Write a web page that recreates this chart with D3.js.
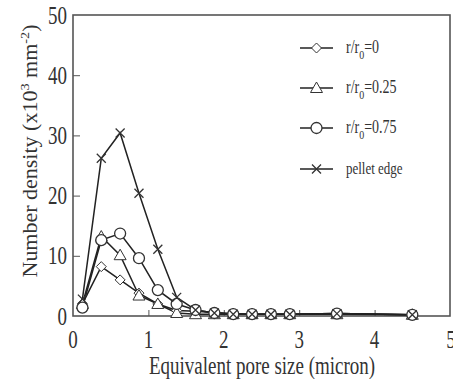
<!DOCTYPE html>
<html><head><meta charset="utf-8">
<script src="https://cdnjs.cloudflare.com/ajax/libs/d3/7.8.5/d3.min.js"></script>
<style>body{margin:0;background:#fff}svg{display:block}text{font-family:"Liberation Serif","Times New Roman",serif;fill:#333}</style>
</head><body><svg id="c" width="453" height="379"></svg>
<script>
const xValues = [0.125,0.375,0.625,0.875,1.125,1.375,1.625,1.875,2.125,2.375,2.625,2.875,3.5,4.5];
const seriesNames = ["r/r0=0","r/r0=0.25","r/r0=0.75","pellet edge"];
const rr0 =    [2.0, 8.2, 6.0, 3.8, 2.0, 0.9, 0.8, 0.6, 0.4, 0.3, 0.3, 0.3, 0.4, 0.2];
const rr025 =  [2.0,13.2,10.1, 3.4, 2.0, 0.5, 0.3, 0.3, 0.3, 0.3, 0.3, 0.3, 0.3, 0.2];
const rr075 =  [1.4,12.6,13.7, 9.6, 4.3, 2.0, 1.0, 0.5, 0.3, 0.3, 0.3, 0.3, 0.4, 0.2];
const edge =   [2.8,26.2,30.4,20.4,11.1, 3.1, 1.0, 0.5, 0.3, 0.3, 0.3, 0.3, 0.4, 0.2];
const xTicks = [0,1,2,3,4,5];
const yTicks = [0,10,20,30,40,50];
const markers = ["diamond","triangle","circle","cross"];
const allSeries = [rr0, rr025, rr075, edge];

const svg = d3.select("#c");
const x = d3.scaleLinear().domain([0,5]).range([73,450]);
const y = d3.scaleLinear().domain([0,50]).range([316,15]);
const frame = "#555", lineC = "#222", mk = "#333";
const VS = 1.3; // vertical stretch of the reference's text

function stretchedText(px, py, str, size, anchor){
  return svg.append("text").attr("transform",`translate(${px},${py}) scale(1,${VS})`)
    .attr("text-anchor",anchor).attr("dy","0.35em").attr("font-size",size).text(str);
}

// frame
svg.append("rect").attr("x",73).attr("y",15).attr("width",377).attr("height",301)
  .attr("fill","none").attr("stroke",frame).attr("stroke-width",1.6);

// axes (tick marks via d3 axes; labels drawn stretched)
const xa = svg.append("g").attr("transform","translate(0,316)")
  .call(d3.axisBottom(x).tickValues(xTicks).tickSizeInner(-6).tickSizeOuter(0).tickFormat(""));
const ya = svg.append("g").attr("transform","translate(73,0)")
  .call(d3.axisLeft(y).tickValues(yTicks).tickSizeInner(-7).tickSizeOuter(0).tickFormat(""));
[xa,ya].forEach(g=>{
  g.select(".domain").remove();
  g.selectAll(".tick line").attr("stroke",frame).attr("stroke-width",1);
});
xa.selectAll(".tick").filter(d=>d===0||d===5).select("line").remove();
ya.selectAll(".tick").filter(d=>d===0||d===50).select("line").remove();
xTicks.forEach(v=>stretchedText(x(v)+(v===5?1:0), 339, d3.format("d")(v), 19, "middle"));
yTicks.forEach(v=>stretchedText(67, y(v), d3.format("d")(v), 19, "end"));

// titles
stretchedText(262, 365, "Equivalent pore size (micron)", 19, "middle");
const yt = svg.append("text").attr("transform","translate(37,151) rotate(-90) scale(1.1,1)")
  .attr("text-anchor","middle").attr("font-size",20);
yt.append("tspan").text("Number density (x10");
yt.append("tspan").attr("font-size",13).attr("dy",-8).text("3");
yt.append("tspan").attr("dy",8).text(" mm");
yt.append("tspan").attr("font-size",13).attr("dy",-8).text("-2");
yt.append("tspan").attr("dy",8).text(")");

function drawMarker(g, type, cx, cy){
  if(type==="diamond"){
    g.append("path").attr("d",`M${cx},${cy-5}L${cx+5},${cy}L${cx},${cy+5}L${cx-5},${cy}Z`)
      .attr("fill","#fff").attr("stroke",mk).attr("stroke-width",1);
  } else if(type==="triangle"){
    g.append("path").attr("d",`M${cx},${cy-6}L${cx+6},${cy+4.5}L${cx-6},${cy+4.5}Z`)
      .attr("fill","#fff").attr("stroke",mk).attr("stroke-width",1);
  } else if(type==="circle"){
    g.append("circle").attr("cx",cx).attr("cy",cy).attr("r",5.5)
      .attr("fill","#fff").attr("stroke",mk).attr("stroke-width",1.3);
  } else {
    g.append("path").attr("d",`M${cx-4.5},${cy-4.5}L${cx+4.5},${cy+4.5}M${cx-4.5},${cy+4.5}L${cx+4.5},${cy-4.5}`)
      .attr("stroke",mk).attr("stroke-width",1.3);
  }
}

const line = d3.line().x((d,i)=>x(xValues[i])).y(d=>y(d));
allSeries.forEach((s,k)=>{
  svg.append("path").datum(s).attr("d",line).attr("fill","none").attr("stroke",lineC).attr("stroke-width",1.5);
});
allSeries.forEach((s,k)=>{
  const g = svg.append("g");
  s.forEach((v,i)=>drawMarker(g, markers[k], x(xValues[i]), y(v)));
});

// legend
const legY = [48,88,128,169];
seriesNames.forEach((name,k)=>{
  const g = svg.append("g");
  g.append("line").attr("x1",300).attr("x2",333).attr("y1",legY[k]).attr("y2",legY[k]).attr("stroke",lineC).attr("stroke-width",1.3);
  drawMarker(g, markers[k], 316.5, legY[k]);
  const t = g.append("text").attr("transform",`translate(346,${legY[k]}) scale(1,${VS})`)
    .attr("dy","0.3em").attr("font-size",14);
  if(name.startsWith("r/r0")){
    t.append("tspan").text("r/r");
    t.append("tspan").attr("font-size",10).attr("dy",4).text("0");
    t.append("tspan").attr("dy",-4).text(name.slice(4));
  } else {
    t.attr("font-size",13).text(name);
  }
});
</script></body></html>
